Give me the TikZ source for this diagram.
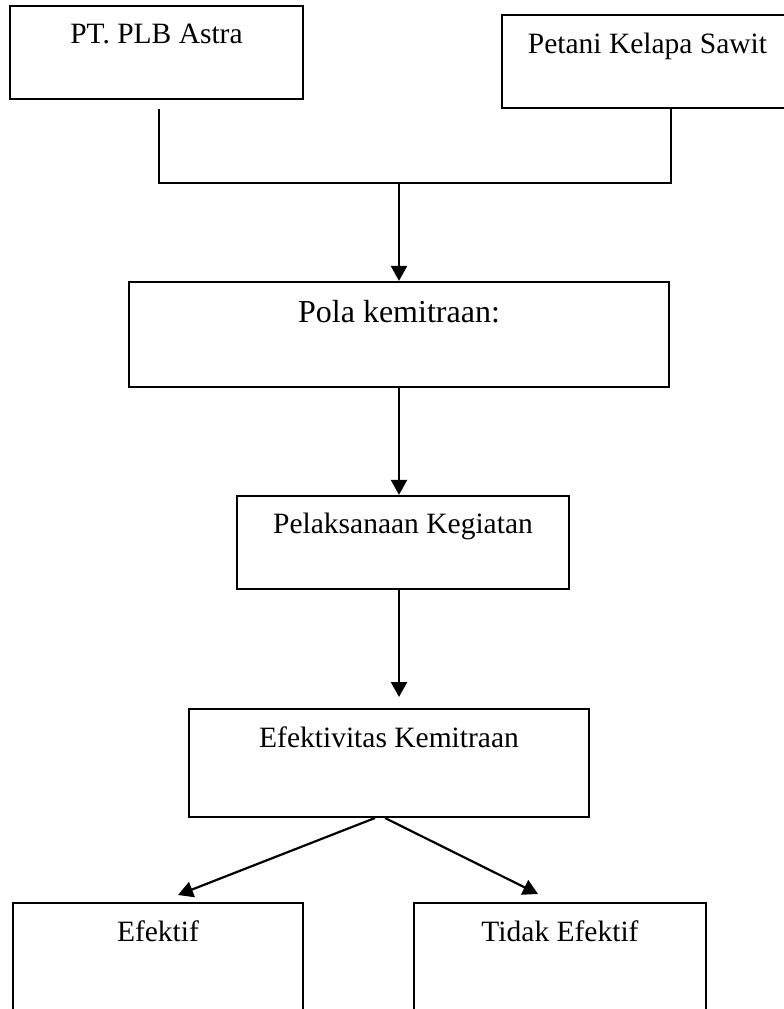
\documentclass[tikz,border=0pt]{standalone}
\usepackage{fontspec}
\setmainfont{Liberation Serif}
\usetikzlibrary{arrows.meta}
\begin{document}
\begin{tikzpicture}[x=1pt,y=-1pt,
  box/.style={draw, line width=2.2pt, inner sep=0pt, rectangle},
  lbl/.style={anchor=base, inner sep=0pt, font=\fontsize{29.5}{34}\selectfont},
  biglbl/.style={anchor=base, inner sep=0pt, font=\fontsize{32}{36}\selectfont},
  conn/.style={line width=2.2pt},
  arr/.style={line width=2.2pt, -{Triangle[length=15pt,width=16pt]}}]
\useasboundingbox (0,0) rectangle (784,1009);
\clip (0,0) rectangle (784,1009);
% boxes
\node[box, minimum width=293pt, minimum height=93pt] (b1) at (156.5,52.5) {};
\node[box, minimum width=291pt, minimum height=93pt] (b2) at (647.5,61.5) {};
\node[box, minimum width=540pt, minimum height=105pt] (b3) at (399,334.5) {};
\node[box, minimum width=332pt, minimum height=93pt] (b4) at (403,542.5) {};
\node[box, minimum width=400pt, minimum height=108pt] (b5) at (389,763) {};
\node[box, minimum width=290pt, minimum height=200pt] (b6) at (158,1003) {};
\node[box, minimum width=292pt, minimum height=200pt] (b7) at (560,1003) {};
% labels
\node[lbl] (t1) at (156.5,43) {PT. PLB Astra};
\node[lbl] (t2) at (647.5,53) {Petani Kelapa Sawit};
\node[biglbl] (t3) at (399,322) {Pola kemitraan:};
\node[lbl] (t4) at (403,533) {Pelaksanaan Kegiatan};
\node[lbl] (t5) at (389,747) {Efektivitas Kemitraan};
\node[lbl] (t6) at (158,941) {Efektif};
\node[lbl] (t7) at (560,941) {Tidak Efektif};
% connectors
\coordinate (j1) at (159,109);
\coordinate (j2) at (159,183);
\coordinate (j3) at (671,183);
\coordinate (j4) at (399,183);
\coordinate (e5) at (399,697);
\coordinate (s6) at (375,818);
\coordinate (s7) at (385,818);
\coordinate (e6) at (178,895);
\coordinate (e7) at (538,894);
\draw[conn] (j1) -- (j2) -- (j3) -- (b2.south -| j3);
\draw[arr] (j4) -- (b3.north -| j4);
\draw[arr] (b3.south -| j4) -- (b4.north -| j4);
\draw[arr] (b4.south -| j4) -- (e5);
\draw[arr] (s6) -- (e6);
\draw[arr] (s7) -- (e7);
\end{tikzpicture}
\end{document}
